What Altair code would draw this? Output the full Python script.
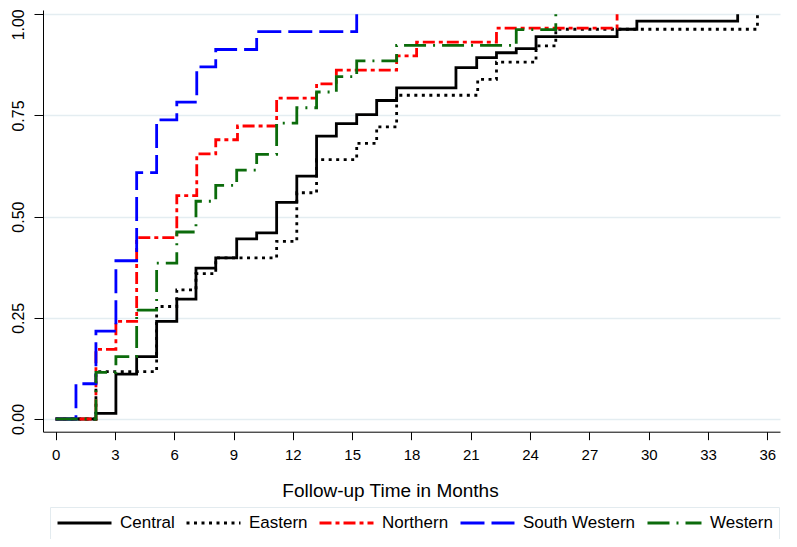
import altair as alt
import pandas as pd

regions = ["Central", "Eastern", "Northern", "South Western", "Western"]
colors = ["#000000", "#000000", "#ff0000", "#0000ff", "#0b6b0b"]
dashes = [[1, 0], [3, 4.5], [12, 4, 4, 4], [24, 7], [22, 7, 2, 7]]

central_t = [0, 2.04, 3.05, 4.10, 5.11, 6.13, 7.10, 8.10, 9.16, 10.17, 11.18, 12.2, 13.2, 14.2,
             15.23, 16.24, 17.25, 20.25, 21.3, 22.3, 23.3, 24.3, 28.4, 29.4, 34.5]
central_v = [0, 0.014, 0.111, 0.154, 0.241, 0.296, 0.373, 0.398, 0.445, 0.46, 0.535, 0.60, 0.699, 0.730,
             0.752, 0.787, 0.818, 0.868, 0.893, 0.905, 0.915, 0.945, 0.963, 0.983, 1.0]

eastern_t = [0, 2.04, 5.11, 6.13, 7.10, 8.10, 11.18, 12.2, 13.2, 15.23, 16.24, 17.25, 21.35, 22.3,
             24.3, 25.3, 35.5]
eastern_v = [0, 0.117, 0.278, 0.319, 0.359, 0.398, 0.439, 0.559, 0.641, 0.681, 0.722, 0.800, 0.839, 0.882,
             0.922, 0.963, 1.0]

northern_t = [0, 2.04, 3.05, 4.10, 6.13, 7.14, 8.10, 9.2, 11.18, 13.2, 14.2, 17.25, 18.26, 22.3, 28.4]
northern_v = [0, 0.172, 0.241, 0.448, 0.552, 0.655, 0.690, 0.724, 0.793, 0.828, 0.862, 0.897, 0.931, 0.966, 1.0]

southwestern_t = [0, 1.03, 2.04, 3.05, 4.10, 5.11, 6.13, 7.14, 8.10, 10.17, 15.23]
southwestern_v = [0, 0.087, 0.217, 0.391, 0.609, 0.739, 0.783, 0.870, 0.913, 0.957, 1.0]

western_t = [0, 2.04, 3.05, 4.10, 5.11, 6.13, 7.10, 8.10, 9.16, 10.17, 11.18, 12.2, 13.2, 14.2,
             15.23, 17.25, 23.3, 25.3]
western_v = [0, 0.115, 0.154, 0.269, 0.385, 0.462, 0.538, 0.577, 0.615, 0.654, 0.731, 0.769, 0.808, 0.846,
             0.885, 0.923, 0.962, 1.0]

x_ticks = list(range(0, 37, 3))
y_ticks = [0, 0.25, 0.5, 0.75, 1.0]

series = [
    ("Central", central_t, central_v),
    ("Eastern", eastern_t, eastern_v),
    ("Northern", northern_t, northern_v),
    ("South Western", southwestern_t, southwestern_v),
    ("Western", western_t, western_v),
]
rows = []
for name, ts, vs in series:
    for i, (t, v) in enumerate(zip(ts, vs)):
        rows.append({"Region": name, "t": t, "v": v, "i": i})
df = pd.DataFrame(rows)

FONT = "Liberation Sans"

legend = alt.Legend(
    title=None,
    orient="none",
    legendX=7,
    legendY=497,
    direction="horizontal",
    columns=5,
    symbolType="stroke",
    symbolSize=2916,
    symbolStrokeWidth=2.8,
    clipHeight=20,
    labelFont=FONT,
    labelFontSize=17,
    labelColor="#000000",
    labelOffset=7,
    columnPadding=10,
    padding=6,
    strokeColor="#e3ebef",
    fillColor="#ffffff",
    labelLimit=0,
)

chart = (
    alt.Chart(df)
    .mark_line(interpolate="step-after", strokeWidth=2.8, strokeCap="butt")
    .encode(
        x=alt.X(
            "t:Q",
            scale=alt.Scale(domain=[-0.637, 36.64], nice=False, zero=False),
            axis=alt.Axis(
                values=x_ticks,
                title="Follow-up Time in Months",
                titleFont=FONT,
                titleFontSize=19,
                titleFontWeight="normal",
                titleColor="#000000",
                titleX=347,
                titleY=59,
                titleAlign="center",
                titleBaseline="middle",
                labelFont=FONT,
                labelFontSize=15,
                labelColor="#000000",
                labelPadding=8,
                tickSize=8,
                tickColor="#000000",
                domainColor="#000000",
                grid=False,
                labelFlush=False,
            ),
        ),
        y=alt.Y(
            "v:Q",
            scale=alt.Scale(domain=[-0.0314, 1.0106], nice=False, zero=False),
            axis=alt.Axis(
                values=y_ticks,
                format=".2f",
                title=None,
                labelFont=FONT,
                labelFontSize=16,
                labelColor="#000000",
                labelAngle=270,
                labelAlign="center",
                labelBaseline="middle",
                labelPadding=16,
                labelOffset={"condition": {"test": "datum.value === 1", "value": 10}, "value": 0},
                tickSize=9,
                tickColor="#000000",
                domainColor="#000000",
                grid=True,
                gridColor="#e4edf1",
                gridWidth=1.5,
                labelFlush=False,
            ),
        ),
        color=alt.Color("Region:N", scale=alt.Scale(domain=regions, range=colors), legend=legend),
        strokeDash=alt.StrokeDash("Region:N", scale=alt.Scale(domain=regions, range=dashes), legend=legend),
        order=alt.Order("i:Q"),
    )
    .properties(
        width=737,
        height=421.7,
        autosize=alt.AutoSizeParams(type="none"),
        padding={"left": 35, "top": 2, "right": 9, "bottom": 107},
    )
    .configure_view(stroke=None)
)

chart.save("out.html", embed_options={"renderer": "svg", "actions": False})
